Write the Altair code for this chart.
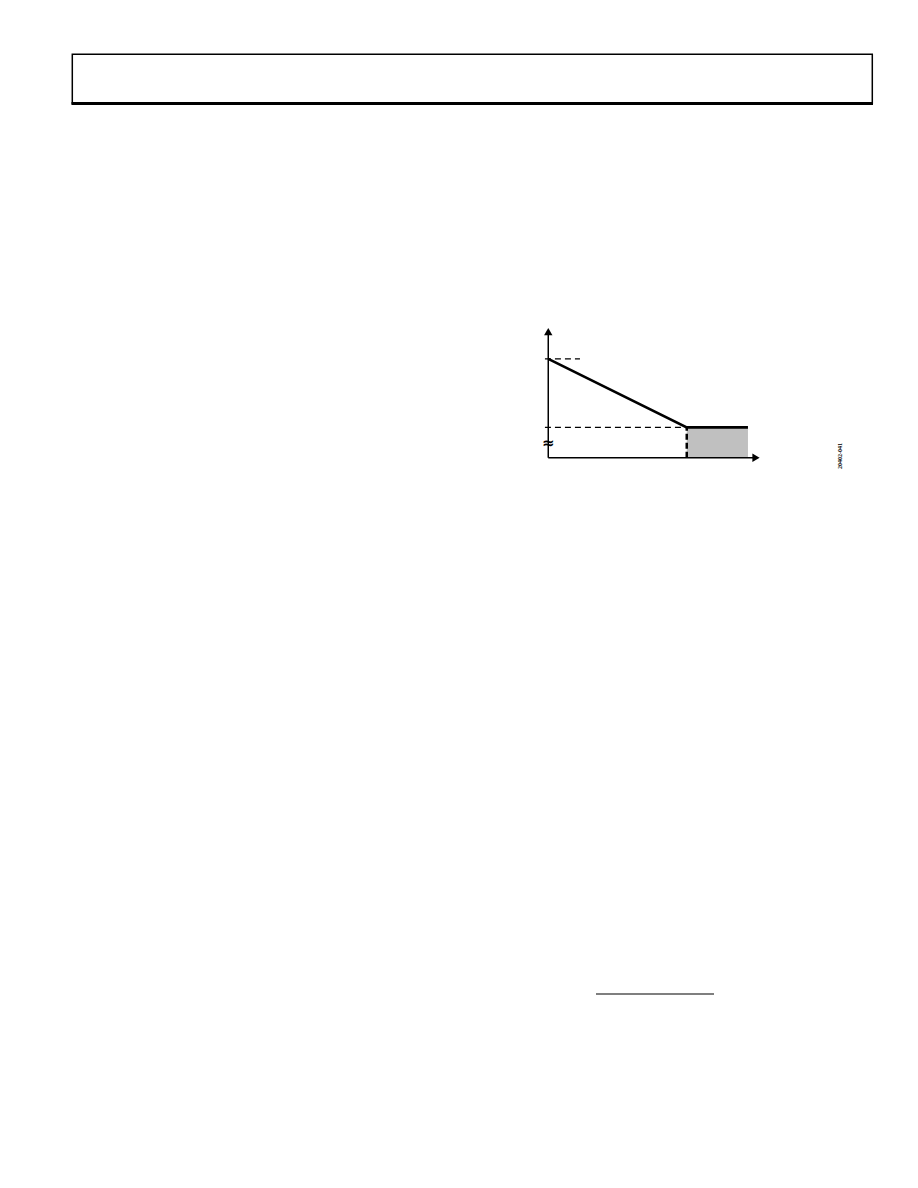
import altair as alt
import pandas as pd

# Schematic values (arbitrary units)
line_x = [0.0, 10.0, 14.42]
line_y = [6.51, 2.0, 2.0]
shade_x = [10.0]
shade_x2 = [14.42]
shade_y = [0.0]
shade_y2 = [2.0]
dash_h_x = [-0.24, -0.24]
dash_h_x2 = [2.29, 10.0]
dash_h_y = [6.51, 2.0]
dash_v_x = [10.0]
dash_v_y = [0.0]
dash_v_y2 = [2.0]
axis_x_end = 15.0
axis_y_end = 8.3
break_y = 0.97
fig_id = "20402-041"

XD = [-39.01, 26.12]
YD = [-47.52, 29.59]
xs = alt.Scale(domain=XD, nice=False, zero=False)
ys = alt.Scale(domain=YD, nice=False, zero=False)

def X(f, **k):
    return alt.X(f, type="quantitative", scale=xs, axis=None, **k)

def Y(f, **k):
    return alt.Y(f, type="quantitative", scale=ys, axis=None, **k)

line_df = pd.DataFrame({"x": line_x, "y": line_y, "o": range(len(line_x))})
shade_df = pd.DataFrame({"x": shade_x, "x2": shade_x2, "y": shade_y, "y2": shade_y2})
dh_df = pd.DataFrame({"x": dash_h_x, "x2": dash_h_x2, "y": dash_h_y})
dv_df = pd.DataFrame({"x": dash_v_x, "y": dash_v_y, "y2": dash_v_y2})
ax_df = pd.DataFrame({"x": [0.0, 0.0], "x2": [axis_x_end, 0.0], "y": [0.0, 0.0], "y2": [0.0, axis_y_end]})
arrow_df = pd.DataFrame({"x": [0.0, axis_x_end], "y": [axis_y_end, 0.0], "s": ["triangle-up", "triangle-right"]})
brk_df = pd.DataFrame({"x": [0.0], "y": [break_y]})
one = pd.DataFrame({"a": [0]})

shade = alt.Chart(shade_df).mark_rect(color="#c0c0c0").encode(
    x=X("x"), x2="x2", y=Y("y"), y2="y2")

axes = alt.Chart(ax_df).mark_rule(color="black", strokeWidth=1.5).encode(
    x=X("x"), x2="x2", y=Y("y"), y2="y2")

arrows = alt.Chart(arrow_df).mark_point(filled=True, color="black", opacity=1, size=70).encode(
    x=X("x"), y=Y("y"),
    shape=alt.Shape("s:N", scale=alt.Scale(domain=["triangle-up", "triangle-right"],
                                           range=["triangle-up", "triangle-right"]), legend=None))

dh = alt.Chart(dh_df).mark_rule(color="black", strokeWidth=1.2, strokeDash=[6, 4]).encode(
    x=X("x"), x2="x2", y=Y("y"))

dv = alt.Chart(dv_df).mark_rule(color="black", strokeWidth=2.5, strokeDash=[6, 3]).encode(
    x=X("x"), y=Y("y"), y2="y2")

main = alt.Chart(line_df).mark_line(color="black", strokeWidth=2.6).encode(
    x=X("x"), y=Y("y"), order="o:Q")

brk = alt.Chart(brk_df).mark_text(text="≈", fontSize=15, fontWeight="bold", color="black",
                                  font="DejaVu Sans").encode(x=X("x"), y=Y("y"))

figid = alt.Chart(one).mark_text(text=fig_id, fontSize=6, angle=270, color="black",
                                 fontWeight="bold", font="Liberation Sans Narrow").encode(
    x=alt.value(832), y=alt.value(448))

header = alt.Chart(one).mark_rect(fill=None, stroke="black", strokeWidth=1.5).encode(
    x=alt.value(64.3), x2=alt.value(864.3), y=alt.value(46.3), y2=alt.value(95.5))
header_bottom = alt.Chart(one).mark_rule(color="black", strokeWidth=3).encode(
    x=alt.value(63.5), x2=alt.value(865), y=alt.value(95.5))
foot = alt.Chart(one).mark_rule(color="black", strokeWidth=1.2).encode(
    x=alt.value(588), x2=alt.value(706), y=alt.value(986))

chart = alt.layer(header, header_bottom, foot, shade, axes, arrows, dh, dv, main, brk, figid).properties(
    width=902, height=1172, padding=0,
    autosize=alt.AutoSizeParams(type="none"),
).configure_view(stroke=None)

chart.save("out.html", embed_options={"renderer": "svg", "actions": False})
